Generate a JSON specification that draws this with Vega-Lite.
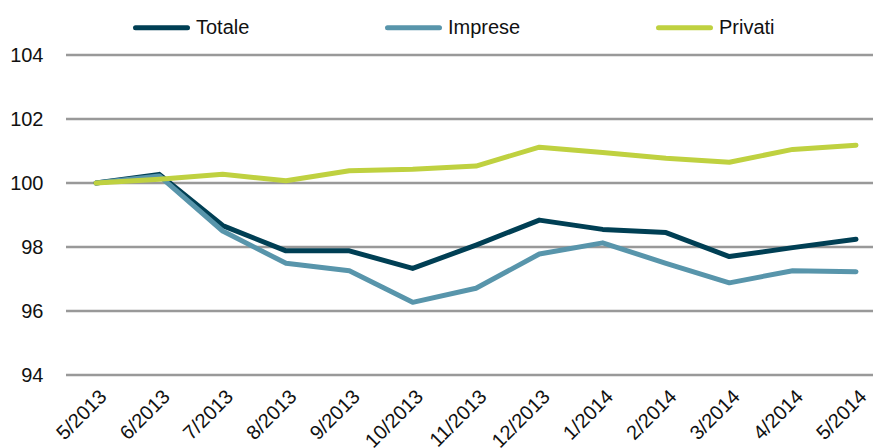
{
  "$schema": "https://vega.github.io/schema/vega-lite/v6.json",
  "autosize": {"type": "none"},
  "padding": {"left": 66, "top": 55, "right": 0, "bottom": 73},
  "width": 807,
  "height": 320,
  "background": "white",
  "config": {
    "view": {"stroke": null},
    "font": "Liberation Sans"
  },
  "datasets": {
    "griglia": [
      {"valore": 94}, {"valore": 96}, {"valore": 98},
      {"valore": 100}, {"valore": 102}, {"valore": 104}
    ],
    "serie": [
      {"mese": "5/2013", "serie": "Totale", "valore": 100.0},
      {"mese": "6/2013", "serie": "Totale", "valore": 100.27},
      {"mese": "7/2013", "serie": "Totale", "valore": 98.67},
      {"mese": "8/2013", "serie": "Totale", "valore": 97.88},
      {"mese": "9/2013", "serie": "Totale", "valore": 97.88},
      {"mese": "10/2013", "serie": "Totale", "valore": 97.33},
      {"mese": "11/2013", "serie": "Totale", "valore": 98.06},
      {"mese": "12/2013", "serie": "Totale", "valore": 98.84},
      {"mese": "1/2014", "serie": "Totale", "valore": 98.55},
      {"mese": "2/2014", "serie": "Totale", "valore": 98.45},
      {"mese": "3/2014", "serie": "Totale", "valore": 97.70},
      {"mese": "4/2014", "serie": "Totale", "valore": 97.98},
      {"mese": "5/2014", "serie": "Totale", "valore": 98.24},
      {"mese": "5/2013", "serie": "Imprese", "valore": 100.0},
      {"mese": "6/2013", "serie": "Imprese", "valore": 100.22},
      {"mese": "7/2013", "serie": "Imprese", "valore": 98.5},
      {"mese": "8/2013", "serie": "Imprese", "valore": 97.49},
      {"mese": "9/2013", "serie": "Imprese", "valore": 97.26},
      {"mese": "10/2013", "serie": "Imprese", "valore": 96.27},
      {"mese": "11/2013", "serie": "Imprese", "valore": 96.71},
      {"mese": "12/2013", "serie": "Imprese", "valore": 97.78},
      {"mese": "1/2014", "serie": "Imprese", "valore": 98.13},
      {"mese": "2/2014", "serie": "Imprese", "valore": 97.49},
      {"mese": "3/2014", "serie": "Imprese", "valore": 96.88},
      {"mese": "4/2014", "serie": "Imprese", "valore": 97.26},
      {"mese": "5/2014", "serie": "Imprese", "valore": 97.23},
      {"mese": "5/2013", "serie": "Privati", "valore": 100.0},
      {"mese": "6/2013", "serie": "Privati", "valore": 100.12},
      {"mese": "7/2013", "serie": "Privati", "valore": 100.27},
      {"mese": "8/2013", "serie": "Privati", "valore": 100.07},
      {"mese": "9/2013", "serie": "Privati", "valore": 100.38},
      {"mese": "10/2013", "serie": "Privati", "valore": 100.43},
      {"mese": "11/2013", "serie": "Privati", "valore": 100.53},
      {"mese": "12/2013", "serie": "Privati", "valore": 101.12},
      {"mese": "1/2014", "serie": "Privati", "valore": 100.95},
      {"mese": "2/2014", "serie": "Privati", "valore": 100.77},
      {"mese": "3/2014", "serie": "Privati", "valore": 100.65},
      {"mese": "4/2014", "serie": "Privati", "valore": 101.05},
      {"mese": "5/2014", "serie": "Privati", "valore": 101.18}
    ]
  },
  "layer": [
    {
      "data": {"name": "griglia"},
      "mark": {"type": "rule", "color": "#999999", "strokeWidth": 2.5},
      "encoding": {
        "y": {
          "field": "valore",
          "type": "quantitative",
          "scale": {"domain": [94, 104], "nice": false, "zero": false},
          "axis": {
            "title": null,
            "values": [94, 96, 98, 100, 102, 104],
            "domain": false,
            "ticks": false,
            "grid": false,
            "labelPadding": 23,
            "labelFontSize": 20,
            "labelColor": "#111111",
            "labelFont": "Liberation Sans"
          }
        }
      }
    },
    {
      "data": {"name": "serie"},
      "mark": {"type": "line", "strokeWidth": 5, "strokeCap": "round", "strokeJoin": "round"},
      "encoding": {
        "x": {
          "field": "mese",
          "type": "nominal",
          "sort": null,
          "scale": {"type": "point", "range": [30, 790], "padding": 0},
          "axis": {
            "title": null,
            "domain": false,
            "ticks": false,
            "grid": false,
            "labelAngle": -45,
            "labelPadding": 11,
            "labelFontSize": 20,
            "labelColor": "#111111",
            "labelFont": "Liberation Sans"
          }
        },
        "y": {
          "field": "valore",
          "type": "quantitative",
          "scale": {"domain": [94, 104], "nice": false, "zero": false},
          "axis": {
            "title": null,
            "values": [94, 96, 98, 100, 102, 104],
            "domain": false,
            "ticks": false,
            "grid": false,
            "labelPadding": 23,
            "labelFontSize": 20,
            "labelColor": "#111111",
            "labelFont": "Liberation Sans"
          }
        },
        "color": {
          "field": "serie",
          "type": "nominal",
          "sort": null,
          "scale": {"domain": ["Totale", "Imprese", "Privati"], "range": ["#003f54", "#5895ab", "#bfd140"]},
          "legend": {
            "title": null,
            "orient": "none",
            "direction": "horizontal",
            "legendX": 67,
            "legendY": -56,
            "symbolType": "stroke",
            "symbolSize": 2704,
            "symbolStrokeWidth": 5,
            "labelOffset": 6,
            "columnPadding": 127,
            "labelFontSize": 20,
            "labelFont": "Liberation Sans",
            "labelColor": "#111111",
            "encode": {"symbols": {"update": {"strokeCap": {"value": "round"}}}}
          }
        }
      }
    }
  ]
}
